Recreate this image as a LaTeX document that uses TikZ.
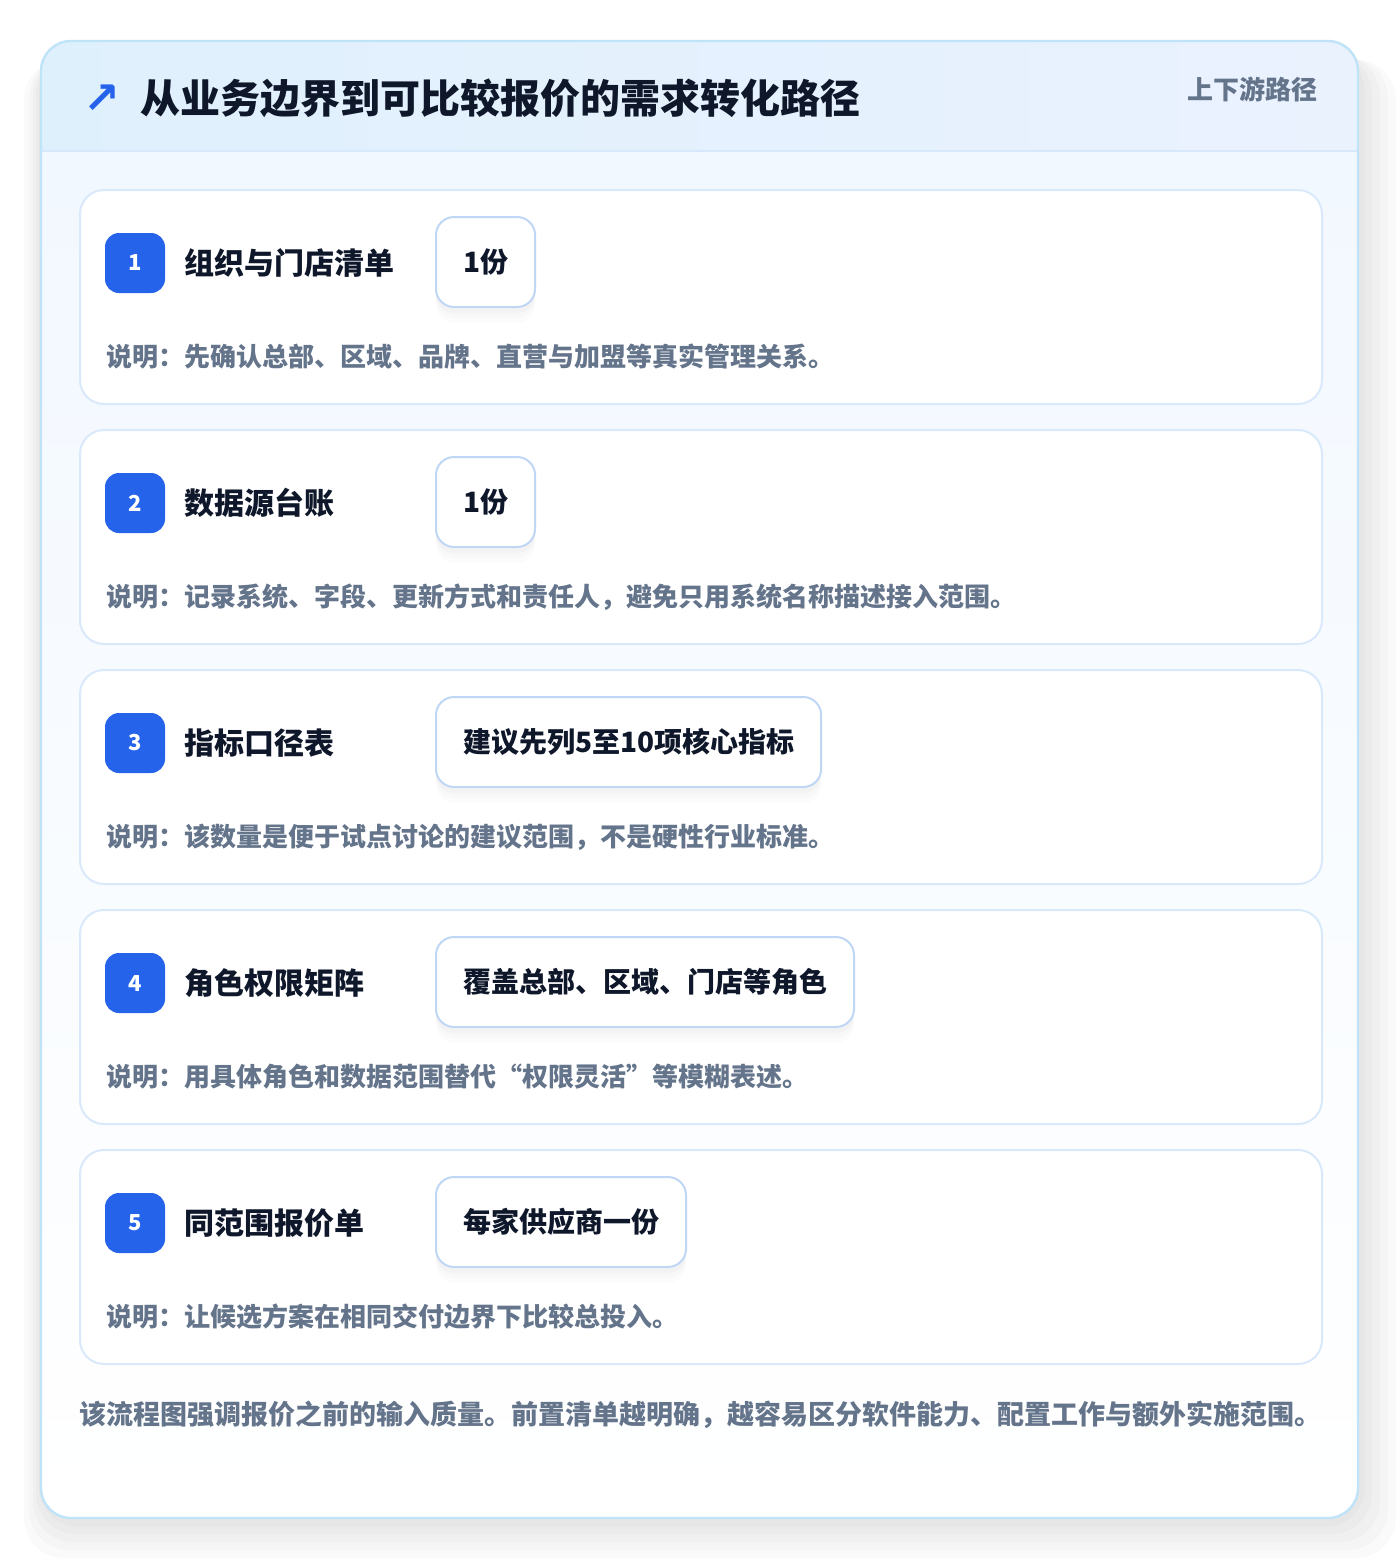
\documentclass[tikz,border=0pt]{standalone}
\usepackage{fontspec}
\setmainfont{Noto Sans CJK SC}
\newfontfamily\symfont{DejaVu Sans}
\usetikzlibrary{positioning, calc}
\tikzset{
Card/.style={
  draw=cardLine, line width=1pt, fill=white,
  rounded corners=12pt, inner sep=0pt, anchor=north west,
  minimum width=621pt, minimum height=107pt,
  }
}
\tikzset{
Badge/.style={
  fill=badgeFill, text=white, rounded corners=7pt,
  minimum size=30pt, inner sep=0pt,
  font=\fontsize{11}{13}\selectfont\bfseries,
  },
Title/.style={
  anchor=west, text=inkDark, inner sep=0pt,
  font=\fontsize{15}{18}\selectfont\bfseries,
  },
Tag/.style={
  anchor=west, draw=tagLine, line width=1pt, fill=white,
  rounded corners=9pt, minimum height=45pt, inner xsep=13.5pt,
  text=inkDark, font=\fontsize{14}{17}\selectfont\bfseries,
  preaction={draw=none, fill=black, opacity=0.012, transform canvas={yshift=-8pt}},
  preaction={draw=none, fill=black, opacity=0.015, transform canvas={yshift=-5.5pt}},
  preaction={draw=none, fill=black, opacity=0.018, transform canvas={yshift=-3pt}},
  },
Desc/.style={
  anchor=west, text=inkGray, inner sep=0pt,
  font=\fontsize{13}{16}\selectfont\bfseries,
  },
Shadow/.style={
  fill=black, opacity=0.02, rounded corners=20pt,
  }
}
\definecolor{panelLine}{HTML}{BFE3F8}
\definecolor{headLeft}{HTML}{DFF0FD}
\definecolor{headRight}{HTML}{EAF2FE}
\definecolor{headLine}{HTML}{D6E8FA}
\definecolor{bodyTop}{HTML}{F2F8FF}
\definecolor{cardLine}{HTML}{D9E9FB}
\definecolor{tagLine}{HTML}{BFD7F5}
\definecolor{badgeFill}{HTML}{2563EB}
\definecolor{inkDark}{HTML}{0F172A}
\definecolor{inkGray}{HTML}{64748B}

\begin{document}
\begin{tikzpicture}[x=0.5pt, y=-0.5pt]
    \useasboundingbox (0,0) rectangle (1400,1560);
    \fill[white] (0,0) rectangle (1400,1560);

    % panel shadow
    \fill[Shadow] (24,60) rectangle (1396,1558);
    \fill[Shadow] (29,58) rectangle (1388,1550);
    \fill[Shadow] (33,56) rectangle (1380,1542);
    \fill[Shadow] (36,54) rectangle (1372,1534);
    \fill[Shadow] (39,52) rectangle (1365,1527);

    % panel
    \begin{scope}
      \clip[rounded corners=15pt] (41,41) rectangle (1358,1518);
      \shade[left color=headLeft, right color=headRight] (41,41) rectangle (1358,151);
      \shade[top color=bodyTop, bottom color=white] (41,151) rectangle (1358,1518);
    \end{scope}
    \draw[headLine, line width=1pt] (41,151) -- (1358,151);
    \draw[panelLine, line width=1.2pt, rounded corners=15pt] (41,41) rectangle (1358,1518);

    % header
    \node[text=badgeFill, inner sep=0pt, font=\symfont\fontsize{22}{24}\selectfont\bfseries] (arrow) at (102,99) {↗};
    \node[Title, font=\fontsize{20}{24}\selectfont\bfseries] (head) at (140,98) {从业务边界到可比较报价的需求转化路径};
    \node[Desc, anchor=east] (scope) at (1318,89) {上下游路径};

    % 1
    \node[Card] (c1) at (79,189) {};
    \node[Badge] (b1) at ($(c1.north west)+(56,74)$) {1};
    \node[Title, right=9.5pt of b1] (t1) {组织与门店清单};
    \node[Tag] (g1) at ($(c1.north west)+(356,73)$) {1份};
    \node[Desc] (d1) at ($(c1.north west)+(27,168)$) {说明：先确认总部、区域、品牌、直营与加盟等真实管理关系。};

    % 2
    \node[Card] (c2) at (79,429) {};
    \node[Badge] (b2) at ($(c2.north west)+(56,74)$) {2};
    \node[Title, right=9.5pt of b2] (t2) {数据源台账};
    \node[Tag] (g2) at ($(c2.north west)+(356,73)$) {1份};
    \node[Desc] (d2) at ($(c2.north west)+(27,168)$) {说明：记录系统、字段、更新方式和责任人，避免只用系统名称描述接入范围。};

    % 3
    \node[Card] (c3) at (79,669) {};
    \node[Badge] (b3) at ($(c3.north west)+(56,74)$) {3};
    \node[Title, right=9.5pt of b3] (t3) {指标口径表};
    \node[Tag] (g3) at ($(c3.north west)+(356,73)$) {建议先列5至10项核心指标};
    \node[Desc] (d3) at ($(c3.north west)+(27,168)$) {说明：该数量是便于试点讨论的建议范围，不是硬性行业标准。};

    % 4
    \node[Card] (c4) at (79,909) {};
    \node[Badge] (b4) at ($(c4.north west)+(56,74)$) {4};
    \node[Title, right=9.5pt of b4] (t4) {角色权限矩阵};
    \node[Tag] (g4) at ($(c4.north west)+(356,73)$) {覆盖总部、区域、门店等角色};
    \node[Desc] (d4) at ($(c4.north west)+(27,168)$) {说明：用具体角色和数据范围替代“权限灵活”等模糊表述。};

    % 5
    \node[Card] (c5) at (79,1149) {};
    \node[Badge] (b5) at ($(c5.north west)+(56,74)$) {5};
    \node[Title, right=9.5pt of b5] (t5) {同范围报价单};
    \node[Tag] (g5) at ($(c5.north west)+(356,73)$) {每家供应商一份};
    \node[Desc] (d5) at ($(c5.north west)+(27,168)$) {说明：让候选方案在相同交付边界下比较总投入。};

    % note
    \node[Desc, font=\fontsize{13.5}{16}\selectfont\bfseries] (note) at (79,1415) {该流程图强调报价之前的输入质量。前置清单越明确，越容易区分软件能力、配置工作与额外实施范围。};
\end{tikzpicture}
\end{document}
